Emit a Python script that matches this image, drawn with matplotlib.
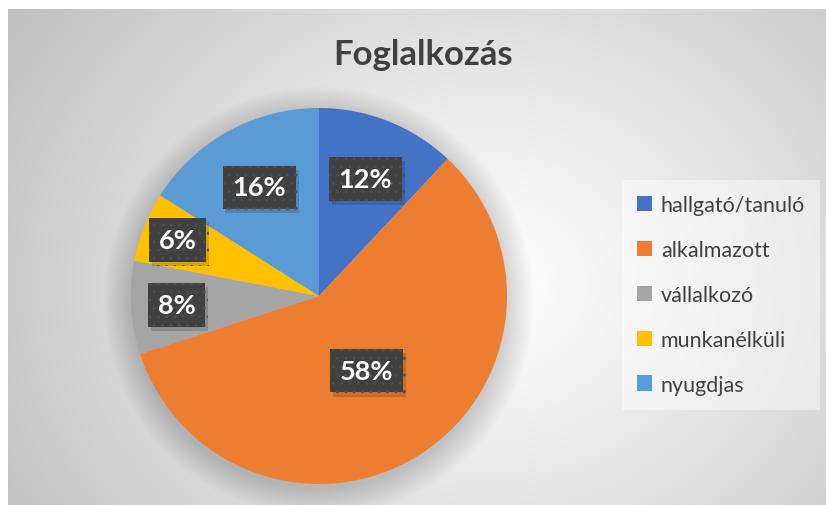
import numpy as np
import matplotlib
matplotlib.use("Agg")
import matplotlib.pyplot as plt
from matplotlib.patches import Circle, Rectangle
import matplotlib.patheffects as pe

# ---- data ----
title = "Foglalkozás"
categories = ["hallgató/tanuló", "alkalmazott", "vállalkozó", "munkanélküli", "nyugdjas"]
shares = [12, 58, 8, 6, 16]
colors = ["#4472C4", "#ED7D31", "#A5A5A5", "#FFC000", "#5B9BD5"]
label_dist = [0.67, 0.47, 0.76, 0.81, 0.66]

W, H = 826, 506
fig = plt.figure(figsize=(W / 100, H / 100), dpi=100, facecolor="#d4d4d4")

# ---- radial gradient background (chart area) ----
bx0, by0 = 8, 10
xs = np.arange(bx0, W) + 0.5
ys = np.arange(by0, H) + 0.5
X, Y = np.meshgrid(xs, ys)
cx, cy = 490, 285
d = np.sqrt(((X - cx) / 1.0) ** 2 + ((Y - cy) / 0.85) ** 2) / 560
v = 1 - 0.24 * np.clip(d, 0, 1.2) ** 1.1
fig.figimage(np.dstack([v, v, v]), xo=bx0, yo=0, origin="upper", zorder=-10)
# white outer margins (top and left)
fig.patches.append(Rectangle((0, 0), bx0 / W, 1, transform=fig.transFigure,
                             facecolor="white", lw=0, zorder=-5))
fig.patches.append(Rectangle((0, 1 - by0 / H), 1, by0 / H, transform=fig.transFigure,
                             facecolor="white", lw=0, zorder=-5))

# ---- pie ----
pcx, pcy, R = 319, 297, 188
ax = fig.add_axes([(pcx - R) / W, (H - pcy - R) / H, 2 * R / W, 2 * R / H])
ax.patch.set_alpha(0)
for i in range(14):
    ax.add_patch(Circle((0.0, -0.03), 1 + 0.011 * i, color="black", alpha=0.010,
                        lw=0, zorder=0, clip_on=False))
wedges, _ = ax.pie(shares, colors=colors, startangle=90, counterclock=False,
                   radius=1, wedgeprops=dict(linewidth=0), frame=False)
for w in wedges:
    w.set_zorder(2)
ax.set_xlim(-1, 1); ax.set_ylim(-1, 1)
ax.set_aspect("equal")
ax.axis("off")

total = sum(shares)
for w, s, dist in zip(wedges, shares, label_dist):
    ang = np.deg2rad((w.theta1 + w.theta2) / 2)
    x, y = dist * np.cos(ang), dist * np.sin(ang)
    t = ax.text(x, y, f"{round(100 * s / total)}%", ha="center", va="center",
                color="white", fontsize=19.5, fontweight="bold", family="Lato", zorder=5,
                bbox=dict(boxstyle="square,pad=0.36", facecolor="#404040",
                          edgecolor="#4e4e4e", linewidth=0, hatch=".."))
    t.get_bbox_patch().set_path_effects([
        pe.SimplePatchShadow(offset=(2, -3), shadow_rgbFace="black", alpha=0.15),
        pe.Normal()])

# ---- title ----
fig.text(423 / W, 1 - 55 / H, title, ha="center", va="center", fontsize=25,
         fontweight="bold", color="#404040", family="Lato")

# ---- legend ----
leg = fig.legend(wedges, categories, loc="center left",
                 bbox_to_anchor=(622 / W, (H - 296) / H), frameon=True,
                 prop=dict(family="Lato", size=15.5), labelspacing=1.15,
                 handlelength=0.7, handleheight=0.7, handletextpad=0.4,
                 borderpad=0.7, borderaxespad=0, fancybox=False)
leg.get_frame().set_facecolor("white")
leg.get_frame().set_alpha(0.45)
leg.get_frame().set_linewidth(0)
for txt in leg.get_texts():
    txt.set_color("#404040")

fig.savefig("out.png", dpi=100)
